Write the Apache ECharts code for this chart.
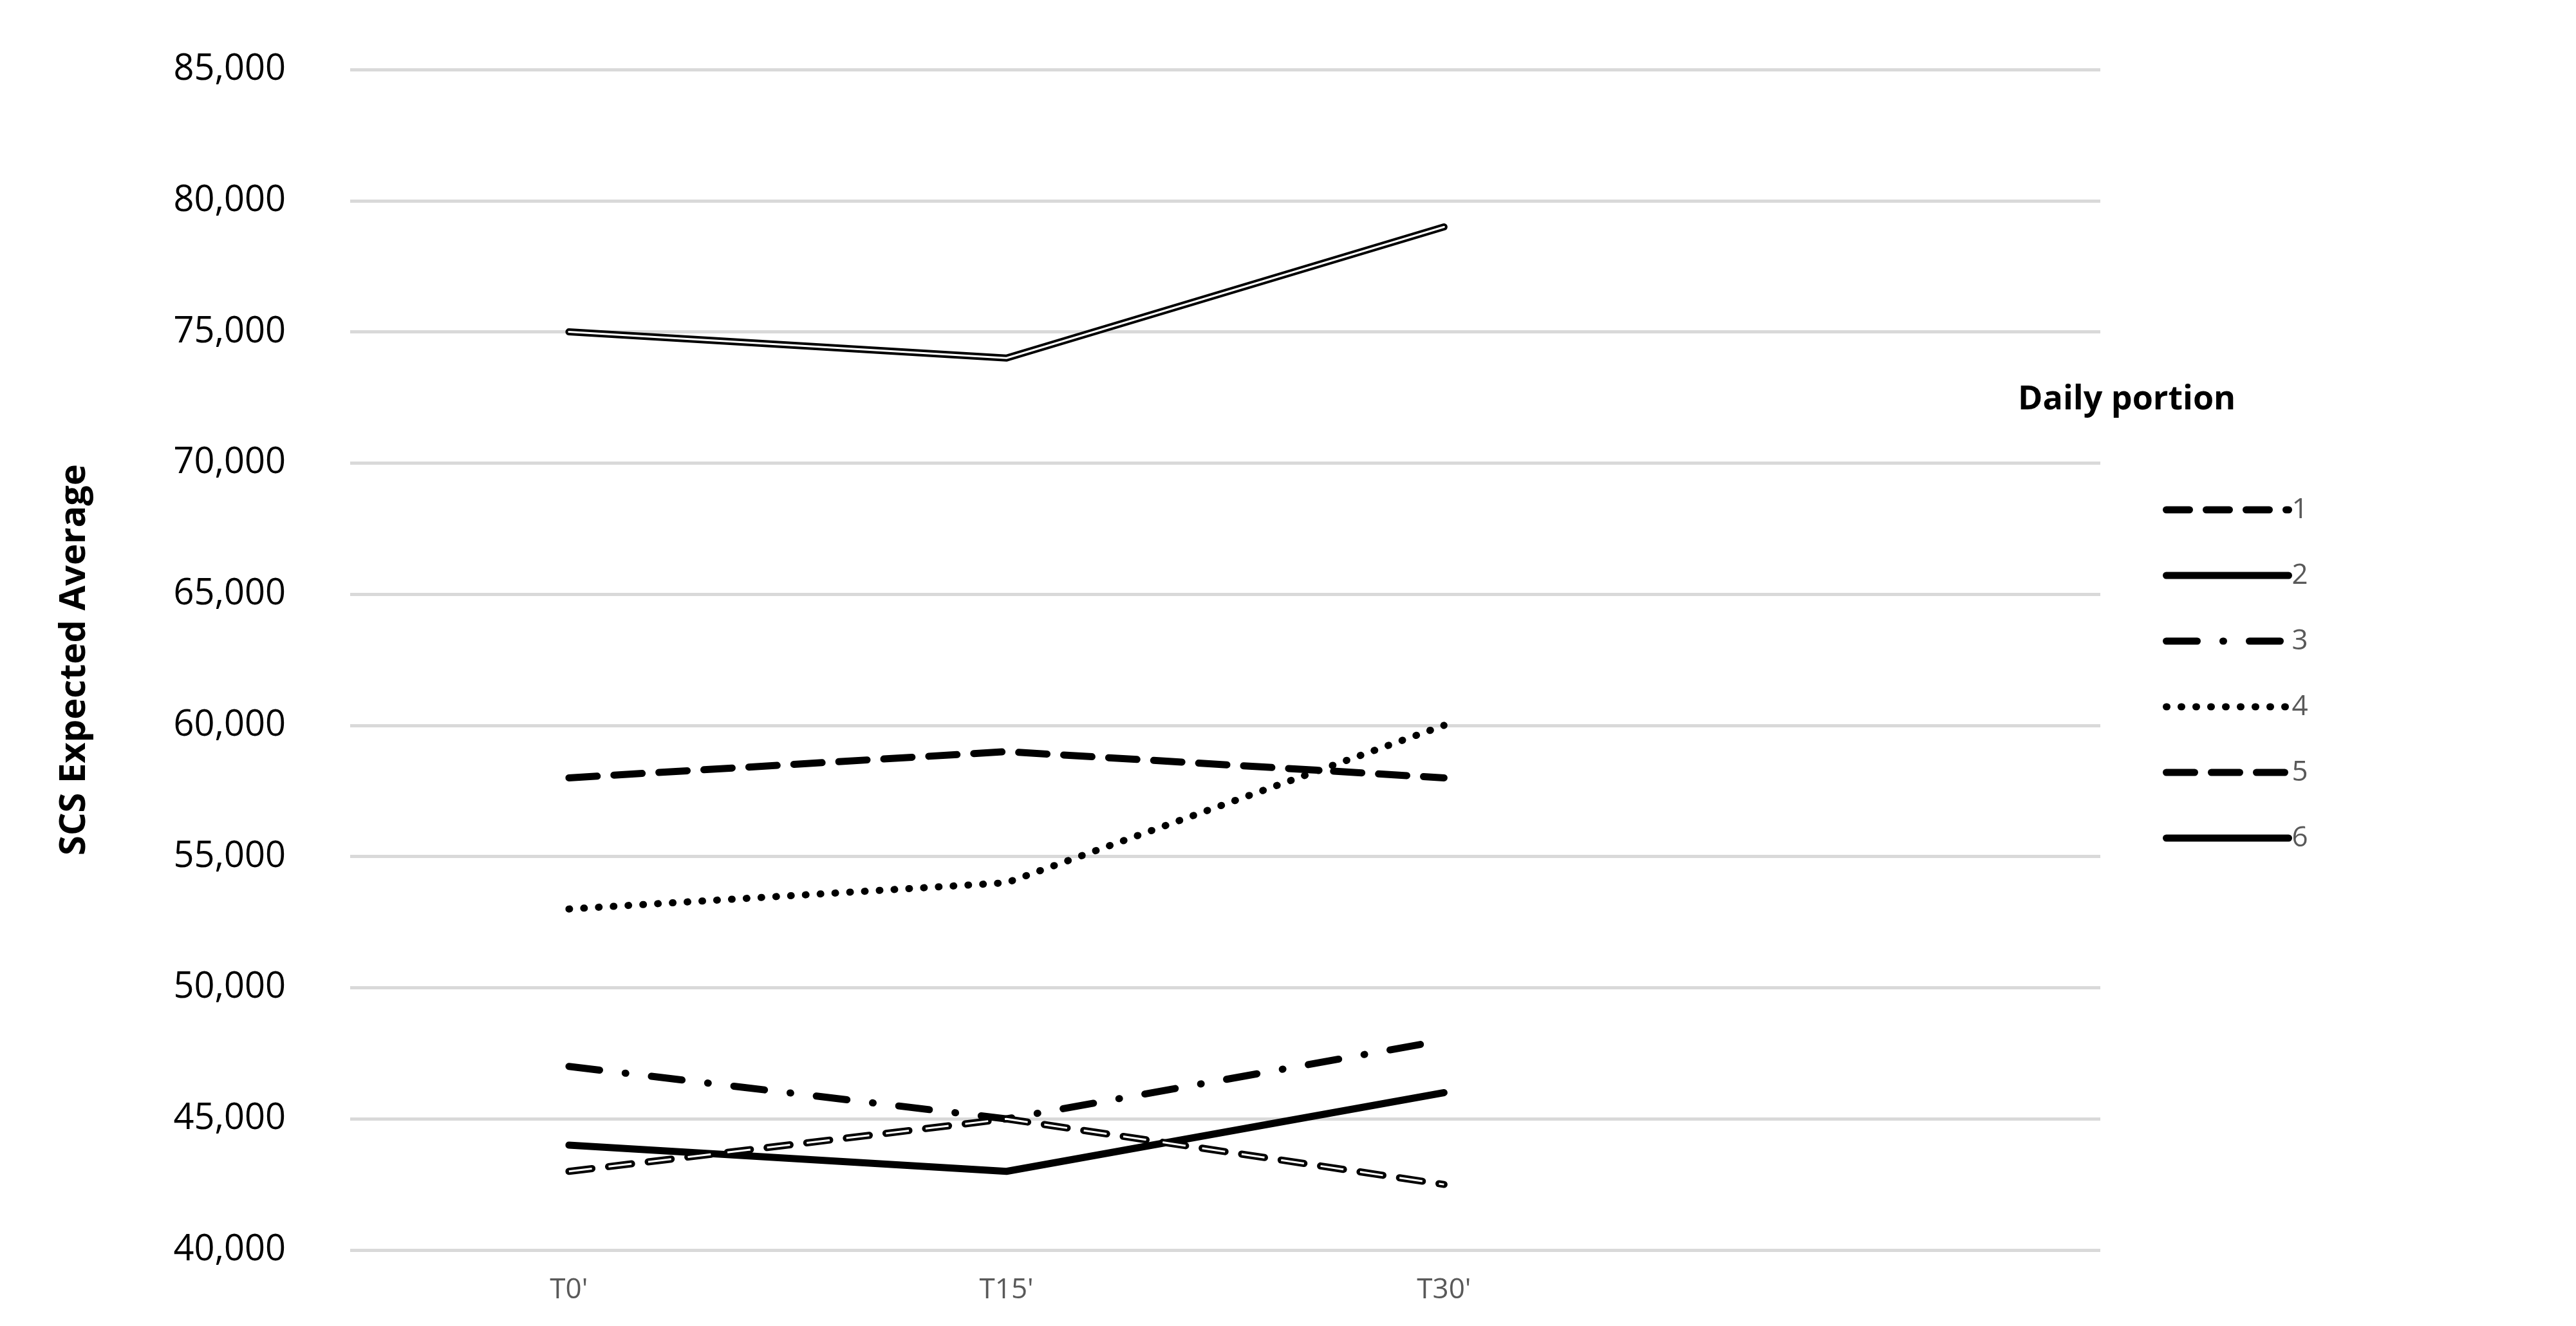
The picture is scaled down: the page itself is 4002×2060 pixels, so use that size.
<!DOCTYPE html>
<html>
<head>
<meta charset="utf-8">
<script src="https://cdn.jsdelivr.net/npm/echarts@6/dist/echarts.min.js"></script>
<style>html,body{margin:0;background:#fff}#main{width:4002px;height:2060px}</style>
</head>
<body>
<div id="main"></div>
<script>
var categories = ["T0'", "T15'", "T30'", ''];
var names = ['1', '2', '3', '4', '5', '6'];
var s1 = [43000, 45000, 42500];
var s2 = [44000, 43000, 46000];
var s3 = [47000, 45000, 48000];
var s4 = [53000, 54000, 60000];
var s5 = [58000, 59000, 58000];
var s6 = [75000, 74000, 79000];

var chart = echarts.init(document.getElementById('main'));

function line(name, data, style, z) {
    return {
        name: name, type: 'line', data: data, symbol: 'none', z: z || 2,
        itemStyle: { color: '#000', opacity: 0 },
        lineStyle: Object.assign({ color: '#000', width: 11, cap: 'round', join: 'round' }, style)
    };
}

var option = {
    backgroundColor: '#fff',
    animation: false,
    color: ['#000'],
    grid: { left: 544, right: 739, top: 108, bottom: 118 },
    title: {
        text: 'Daily portion', left: 3130, top: 590,
        textStyle: { fontFamily: 'Open Sans', fontWeight: 'bold', fontSize: 52, color: '#000' }
    },
    legend: {
        orient: 'vertical', left: 3355, top: 765, itemGap: 58, itemWidth: 190, itemHeight: 50,
        data: names,
        itemStyle: { opacity: 0 },
        lineStyle: { width: 11 },
        textStyle: { fontFamily: 'Open Sans', fontSize: 44, color: '#595959' }
    },
    xAxis: {
        type: 'category', data: categories, boundaryGap: true,
        axisLine: { show: false }, axisTick: { show: false },
        axisLabel: { fontFamily: 'Open Sans', fontSize: 44, color: '#595959', margin: 40 }
    },
    yAxis: {
        type: 'value', min: 40000, max: 85000, interval: 5000,
        name: 'SCS Expected Average', nameLocation: 'middle', nameGap: 400, nameRotate: 90,
        nameTextStyle: { fontFamily: 'Open Sans', fontWeight: 'bold', fontSize: 56, color: '#000' },
        axisLabel: {
            fontFamily: 'Open Sans', fontSize: 56, color: '#000', margin: 100,
            formatter: function (v) { return v.toLocaleString('en-US'); }
        },
        splitLine: { lineStyle: { color: '#d9d9d9', width: 5 } }
    },
    series: [
        line('1', s1, { type: [36, 26] }),
        line('2', s2, {}),
        line('3', s3, { type: [48, 40, 1, 40] }),
        line('4', s4, { type: [1, 22] }),
        line('5', s5, { type: [44, 26] }),
        line('6', s6, {}),
        line('1w', s1, { color: '#fff', width: 3, cap: 'butt', type: [36, 26] }, 3),
        line('6w', s6, { color: '#fff', width: 3 }, 3)
    ]
};
chart.setOption(option);
</script>
</body>
</html>
